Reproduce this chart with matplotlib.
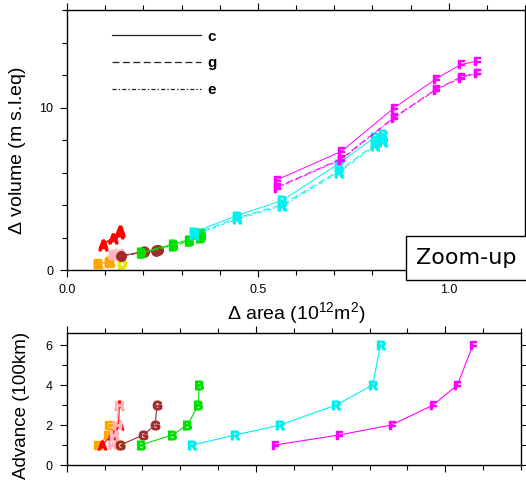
import matplotlib
matplotlib.use('Agg')
import matplotlib.pyplot as plt
from matplotlib.ticker import MultipleLocator, FormatStrFormatter, NullFormatter
from matplotlib.lines import Line2D
from matplotlib.patches import Rectangle

plt.rcParams['font.family'] = ['Liberation Sans', 'DejaVu Sans']
plt.rcParams['mathtext.fontset'] = 'custom'
plt.rcParams['mathtext.rm'] = 'Liberation Sans'
plt.rcParams['mathtext.it'] = 'Liberation Sans:italic'
plt.rcParams['mathtext.bf'] = 'Liberation Sans:bold'
plt.rcParams['lines.scale_dashes'] = False

# area change (10^12 m^2), advance (100 km) and volume change (m s.l.eq) per run
a_area = [0.093, 0.120, 0.137, 0.139]
a_adv = [1, 1.5, 2, 3]
a_vol_c = [1.60, 2.00, 2.30, 2.45]
a_vol_g = [1.55, 1.95, 2.25, 2.40]
a_vol_e = [1.50, 1.90, 2.20, 2.35]

e_area = [0.082, 0.110, 0.113]
e_adv = [1, 1.5, 2]
e_vol_c = [0.42, 0.50, 0.55]
e_vol_g = [0.40, 0.48, 0.53]
e_vol_e = [0.38, 0.46, 0.51]

d_area = [0.144]
d_adv = [1]
d_vol_c = [0.42]
d_vol_g = [0.40]
d_vol_e = [0.38]

h_area = [0.120, 0.126, 0.132, 0.137]
h_adv = [1, 1.5, 2, 3]
h_vol_c = [0.95, 0.98, 1.00, 1.03]
h_vol_g = [0.93, 0.96, 0.98, 1.01]
h_vol_e = [0.91, 0.94, 0.96, 0.99]

g_area = [0.142, 0.202, 0.234, 0.238]
g_adv = [1, 1.5, 2, 3]
g_vol_c = [0.88, 1.14, 1.22, 1.26]
g_vol_g = [0.86, 1.12, 1.20, 1.24]
g_vol_e = [0.84, 1.10, 1.18, 1.22]

b_area = [0.195, 0.279, 0.319, 0.348, 0.350]
b_adv = [1, 1.5, 2, 3, 4]
b_vol_c = [1.08, 1.60, 1.87, 2.10, 2.25]
b_vol_g = [1.05, 1.55, 1.80, 2.03, 2.15]
b_vol_e = [1.02, 1.50, 1.76, 1.98, 2.10]

r_area = [0.332, 0.445, 0.564, 0.712, 0.808, 0.829]
r_adv = [1, 1.5, 2, 3, 4, 6]
r_vol_c = [2.32, 3.35, 4.28, 6.55, 8.20, 8.40]
r_vol_g = [2.22, 3.20, 4.03, 6.10, 7.75, 7.95]
r_vol_e = [2.15, 3.12, 3.95, 6.00, 7.65, 7.85]

f_area = [0.550, 0.719, 0.858, 0.968, 1.032, 1.073]
f_adv = [1, 1.5, 2, 3, 4, 6]
f_vol_c = [5.55, 7.30, 10.00, 11.78, 12.65, 12.85]
f_vol_g = [5.10, 6.85, 9.42, 11.15, 11.87, 12.15]
f_vol_e = [5.05, 6.80, 9.38, 11.10, 11.82, 12.10]

series = [
    ('E', '#ffa500', e_area, e_adv, e_vol_c, e_vol_g, e_vol_e),
    ('A', '#ff0000', a_area, a_adv, a_vol_c, a_vol_g, a_vol_e),
    ('H', '#ffb6c1', h_area, h_adv, h_vol_c, h_vol_g, h_vol_e),
    ('D', '#e6e600', d_area, d_adv, d_vol_c, d_vol_g, d_vol_e),
    ('G', '#a52a2a', g_area, g_adv, g_vol_c, g_vol_g, g_vol_e),
    ('B', '#00e000', b_area, b_adv, b_vol_c, b_vol_g, b_vol_e),
    ('R', '#00f0f0', r_area, r_adv, r_vol_c, r_vol_g, r_vol_e),
    ('F', '#ff00ff', f_area, f_adv, f_vol_c, f_vol_g, f_vol_e),
]

run_names = ['c', 'g', 'e']
run_styles = ['-', (0, (5, 2.5)), (0, (3, 1.5, 1, 1.5))]

fig = plt.figure(figsize=(5.26, 4.86), dpi=100)
ax = fig.add_axes([0.1274, 0.4444, 0.8707, 0.535])
ax2 = fig.add_axes([0.1268, 0.0432, 0.8637, 0.2716])

for letter, col, area, adv, vc, vg, ve in series:
    mk = r'$\mathbf{%s}$' % letter
    for vol, ls in zip([vc, vg, ve], run_styles):
        if letter == 'G':
            ax.plot(area, vol, color=col, lw=0.7, ls=ls, marker='o', ms=6.5,
                    mec=col, mfc=col)
        else:
            ax.plot(area, vol, color=col, lw=0.7, ls=ls, marker=mk, ms=6.3)
    ax2.plot(area, adv, color=col, lw=0.8, marker=mk, ms=6.3)

# style for both panels
for a in (ax, ax2):
    a.set_xlim(0, 1.2)
    a.xaxis.set_major_locator(MultipleLocator(0.5))
    a.xaxis.set_minor_locator(MultipleLocator(0.1))
    a.tick_params(which='both', direction='out', top=True, right=True,
                  labelsize=9, width=0.8)
    a.tick_params(which='major', length=5, pad=5)
    a.tick_params(which='minor', length=3.5)
    for s in a.spines.values():
        s.set_linewidth(1)

ax.set_ylim(0, 16)
ax.yaxis.set_major_locator(MultipleLocator(10))
ax.yaxis.set_minor_locator(MultipleLocator(2))
ax.xaxis.set_major_formatter(FormatStrFormatter('%.1f'))
ax.set_xlabel(r'$\Delta$ area (10$^{12}$m$^2$)', fontsize=14, labelpad=3)
ax.set_ylabel(r'$\Delta$ volume (m s.l.eq)', fontsize=14)
ax.yaxis.set_label_coords(-0.085, 0.46)

ax2.set_ylim(0, 6.6)
ax2.yaxis.set_major_locator(MultipleLocator(2))
ax2.yaxis.set_minor_locator(MultipleLocator(1))
ax2.xaxis.set_major_formatter(NullFormatter())
ax2.set_ylabel('Advance (100km)', fontsize=13.5)
ax2.yaxis.set_label_coords(-0.08, 0.45)

handles = [Line2D([], [], color='#222222', lw=0.9, ls=ls) for ls in run_styles]
ax.legend(handles, run_names, loc='upper left', bbox_to_anchor=(0.098, 0.925),
          frameon=False, handlelength=5.8, handletextpad=0.45, labelspacing=0.85,
          borderpad=0, borderaxespad=0, prop={'weight': 'bold', 'size': 11})

# label box sitting on the lower right corner of the upper panel
box = Rectangle((0.771, 0.4239), 0.24, 0.0905, transform=fig.transFigure,
                facecolor='white', edgecolor='black', lw=1, zorder=10)
fig.add_artist(box)
fig.text(0.887, 0.469, 'Zoom-up', fontsize=16, family='DejaVu Sans',
         ha='center', va='center', zorder=11)

fig.savefig('out.png', dpi=100)
